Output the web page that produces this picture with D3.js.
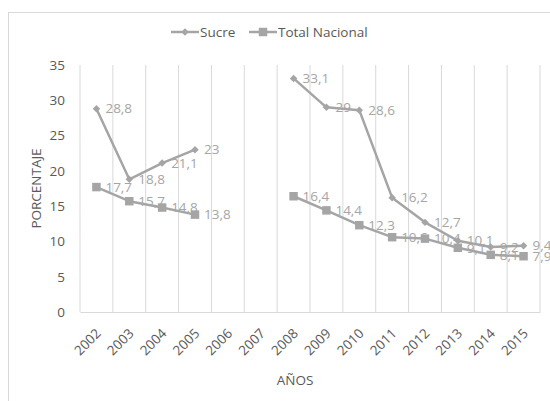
<!DOCTYPE html>
<html>
<head>
<meta charset="utf-8">
<script src="https://cdn.jsdelivr.net/npm/d3@7"></script>
<style>
  body { margin: 0; background: #fff; }
  text { font-family: "Open Sans", sans-serif; }
</style>
</head>
<body>
<div id="chart"></div>
<script>
// data
var years = ["2002", "2003", "2004", "2005", "2006", "2007", "2008",
             "2009", "2010", "2011", "2012", "2013", "2014", "2015"];
var sucre = [28.8, 18.8, 21.1, 23, null, null, 33.1, 29, 28.6, 16.2, 12.7, 10.1, 9.2, 9.4];
var totalNacional = [17.7, 15.7, 14.8, 13.8, null, null, 16.4, 14.4, 12.3, 10.6, 10.4, 9.1, 8.1, 7.9];
var yTicks = [0, 5, 10, 15, 20, 25, 30, 35];

var W = 550, H = 401;
var plot = {left: 80, right: 540, top: 65, bottom: 312};
var grey = "#a5a5a5";

var svg = d3.select("#chart").append("svg")
    .attr("width", W)
    .attr("height", H);

// chart frame
svg.append("rect")
    .attr("x", 8.5).attr("y", 12.5)
    .attr("width", W + 20).attr("height", H + 20)
    .attr("fill", "none")
    .attr("stroke", "#d9d9d9");

// scales
var x = d3.scaleBand().domain(years).range([plot.left, plot.right]);
var y = d3.scaleLinear().domain([0, 35]).range([plot.bottom, plot.top]);
var cx = d => x(d) + x.bandwidth() / 2;

// vertical gridlines at category boundaries
var bounds = years.map(d => x(d)).concat([plot.right]);
svg.selectAll("line.grid")
        .data(bounds).enter()
    .append("line")
        .attr("class", "grid")
        .attr("x1", d => d).attr("x2", d => d)
        .attr("y1", plot.top).attr("y2", plot.bottom)
        .attr("stroke", "#d9d9d9")
        .attr("stroke-width", 1);

// x axis
var xAxis = svg.append("g")
    .attr("transform", `translate(0, ${plot.bottom})`)
    .call(d3.axisBottom(x).tickSize(0).tickPadding(0));
xAxis.select(".domain").attr("stroke", "#d9d9d9");
xAxis.selectAll("text")
    .attr("fill", "#595959")
    .style("font-size", "13.5px")
    .attr("text-anchor", "end")
    .attr("transform", "translate(2, 19) rotate(-45)")
    .attr("dy", "0.35em")
    .attr("y", 0);

// y axis
var yAxis = svg.append("g")
    .attr("transform", `translate(${plot.left - 15}, 0)`)
    .call(d3.axisLeft(y).tickValues(yTicks).tickSize(0).tickPadding(0));
yAxis.select(".domain").remove();
yAxis.selectAll("text")
    .attr("fill", "#595959")
    .style("font-size", "13.5px");

// axis titles
svg.append("text")
    .attr("x", 295).attr("y", 385)
    .attr("text-anchor", "middle")
    .attr("fill", "#595959")
    .style("font-size", "13.5px")
    .text("AÑOS");

svg.append("text")
    .attr("transform", `translate(41, ${(plot.top + plot.bottom) / 2}) rotate(-90)`)
    .attr("text-anchor", "middle")
    .attr("fill", "#595959")
    .style("font-size", "13.5px")
    .text("PORCENTAJE");

// series (diamond = square rotated 45deg)
var series = [
    {name: "Sucre", values: sucre, size: 28, rot: 45},
    {name: "Total Nacional", values: totalNacional, size: 72, rot: 0}
];

var line = d3.line()
    .defined(d => d.v != null)
    .x(d => cx(d.year))
    .y(d => y(d.v));

series.forEach(s => {
    var pts = years.map((yr, i) => ({year: yr, v: s.values[i]}));
    svg.append("path")
        .datum(pts)
        .attr("fill", "none")
        .attr("stroke", grey)
        .attr("stroke-width", 2.5)
        .attr("stroke-linejoin", "round")
        .attr("d", line);

    svg.selectAll(null)
            .data(pts.filter(d => d.v != null)).enter()
        .append("path")
            .attr("d", d3.symbol().type(d3.symbolSquare).size(s.size))
            .attr("transform", d => `translate(${cx(d.year)}, ${y(d.v)}) rotate(${s.rot})`)
            .attr("fill", grey);
    s.pts = pts;
});

// data labels
series.forEach(s => {
    svg.selectAll(null)
            .data(s.pts.filter(d => d.v != null)).enter()
        .append("text")
            .attr("x", d => cx(d.year) + 9)
            .attr("y", d => y(d.v))
            .attr("dy", "0.35em")
            .attr("fill", grey)
            .style("font-size", "13.5px")
            .text(d => String(d.v).replace(".", ","));
});

// legend
var legend = [
    {name: "Sucre", size: 28, rot: 45, x: 171},
    {name: "Total Nacional", size: 72, rot: 0, x: 249}
];
var lg = svg.selectAll("g.legend")
        .data(legend).enter()
    .append("g")
        .attr("transform", d => `translate(${d.x}, 32)`);
lg.append("line")
    .attr("x1", 0).attr("x2", 28)
    .attr("stroke", grey).attr("stroke-width", 2.5);
lg.append("path")
    .attr("d", d => d3.symbol().type(d3.symbolSquare).size(d.size)())
    .attr("transform", d => `translate(14, 0) rotate(${d.rot})`)
    .attr("fill", grey);
lg.append("text")
    .attr("x", 29)
    .attr("dy", "0.35em")
    .attr("fill", "#595959")
    .style("font-size", "13.5px")
    .text(d => d.name);
</script>
</body>
</html>
